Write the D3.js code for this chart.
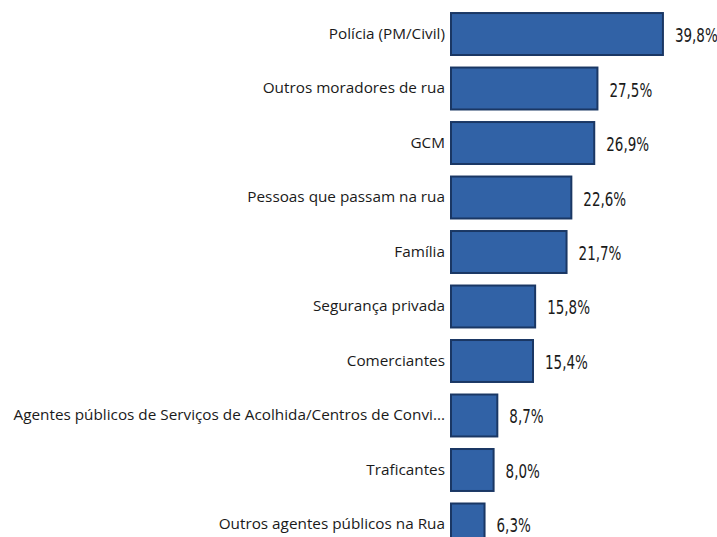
<!DOCTYPE html>
<html>
<head>
<meta charset="utf-8">
<script src="https://cdn.jsdelivr.net/npm/d3@7"></script>
<style>
  html, body { margin: 0; padding: 0; background: #ffffff; }
  svg { display: block; }
  .cat text { font-family: "Open Sans", "Noto Sans", sans-serif; font-size: 15.3px; fill: #1a1a1a; }
  .val { font-family: "Liberation Sans Narrow", "DejaVu Sans Condensed", sans-serif; font-size: 20px; fill: #1a1a1a; }
</style>
</head>
<body>
<svg id="chart" width="717" height="537"></svg>
<script>
// Quem pratica violência contra a população em situação de rua
const categories = [
  "Polícia (PM/Civil)",
  "Outros moradores de rua",
  "GCM",
  "Pessoas que passam na rua",
  "Família",
  "Segurança privada",
  "Comerciantes",
  "Agentes públicos de Serviços de Acolhida/Centros de Convi...",
  "Traficantes",
  "Outros agentes públicos na Rua"
];
const values = [39.8, 27.5, 26.9, 22.6, 21.7, 15.8, 15.4, 8.7, 8.0, 6.3];
const valueLabels = ["39,8%", "27,5%", "26,9%", "22,6%", "21,7%", "15,8%", "15,4%", "8,7%", "8,0%", "6,3%"];

const rows = categories.map((c, i) => ({ cat: c, value: values[i], label: valueLabels[i] }));

const svg = d3.select("#chart");

const x = d3.scaleLinear().domain([0, 40]).range([451, 664]);
const y = d3.scaleBand()
  .domain(categories)
  .range([0.5, 558])
  .paddingInner(0.23)
  .paddingOuter(0.23);

// Category labels on the left of the bars
svg.append("g")
  .attr("class", "cat")
  .attr("transform", `translate(${x(0)},0)`)
  .call(d3.axisLeft(y).tickSize(0).tickPadding(6))
  .call(g => g.select(".domain").remove());

// Bars
svg.append("g")
  .selectAll("rect")
  .data(rows)
  .join("rect")
  .attr("x", x(0))
  .attr("y", d => y(d.cat))
  .attr("width", d => x(d.value) - x(0))
  .attr("height", y.bandwidth())
  .attr("fill", "#3162a6")
  .attr("stroke", "#1a3764")
  .attr("stroke-width", 2);

// Value labels, in a tall condensed face
svg.append("g")
  .selectAll("text")
  .data(rows)
  .join("text")
  .attr("class", "val")
  .attr("transform", d => `translate(${x(d.value) + 12},${y(d.cat) + y.bandwidth() / 2 + 1}) scale(0.75,1)`)
  .attr("dy", "0.35em")
  .text(d => d.label);
</script>
</body>
</html>
